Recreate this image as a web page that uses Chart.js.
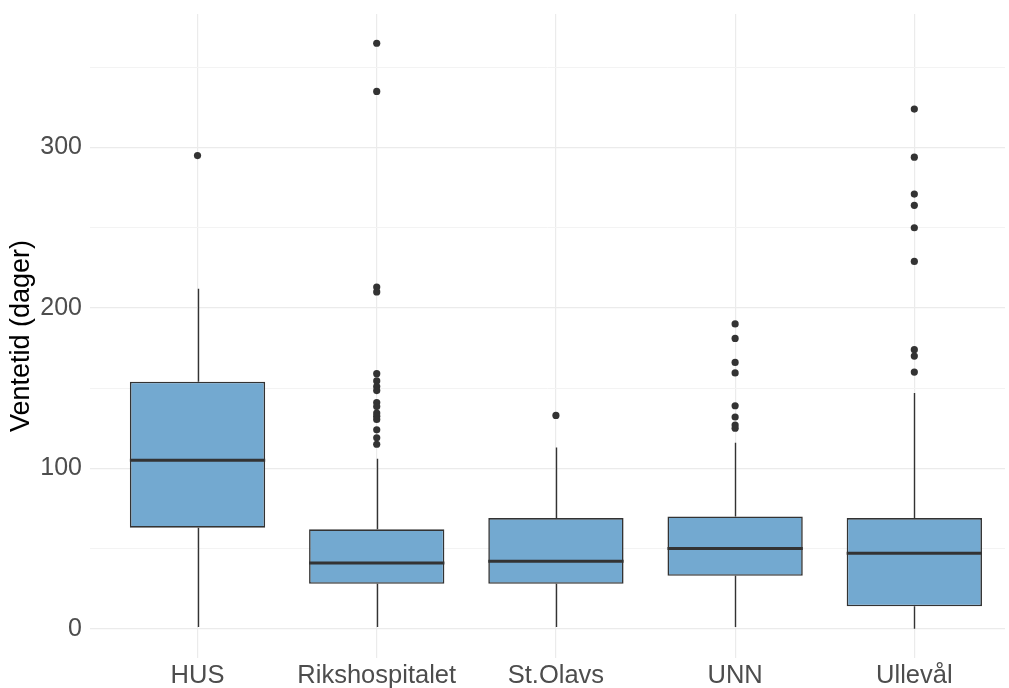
<!DOCTYPE html>
<html>
<head>
<meta charset="utf-8">
<script src="https://cdn.jsdelivr.net/npm/chart.js@4.4.1/dist/chart.umd.min.js"></script>
<style>
  html, body { margin: 0; padding: 0; background: #ffffff; }
  #wrap { width: 1009px; height: 688px; }
</style>
</head>
<body>
<div id="wrap"><canvas id="chart" width="1009" height="688"></canvas></div>
<script>
// sykehus og boksplott-verdier (dager)
const categories = ['HUS', 'Rikshospitalet', 'St.Olavs', 'UNN', 'Ullevål'];
const whiskerLow = [1, 1, 1, 1, 0];
const q1 = [63, 28, 28, 33, 14];
const median = [105, 41, 42, 50, 47];
const q3 = [154, 62, 69, 70, 69];
const whiskerHigh = [212, 106, 113, 116, 147];

// uteliggere per sykehus
const outHUS = [295];
const outRiks = [365, 335, 213, 210, 159, 154.5, 151, 148.5, 141, 138.5, 134.5, 132.5, 130.5, 124, 119, 115];
const outOlavs = [133];
const outUNN = [190, 181, 166, 159.5, 139, 132, 127, 125];
const outUllevaal = [324, 294, 271, 264, 250, 229, 174, 170, 160];
const outliers = [outHUS, outRiks, outOlavs, outUNN, outUllevaal];

const yTicks = [0, 50, 100, 150, 200, 250, 300, 350];
const yMin = -18.25, yMax = 383.25;

const boxData = categories.map((c, i) => ({ x: i + 1, y: [q1[i], q3[i]] }));
const pointData = [];
outliers.forEach((arr, i) => arr.forEach(v => pointData.push({ x: i + 1, y: v })));

const lineColor = '#333333';

// whiskers og median tegnes med skalaene
const boxLines = {
    id: 'boxLines',
    beforeDatasetsDraw(chart) {
        const ctx = chart.ctx;
        const xs = chart.scales.x, ys = chart.scales.y;
        ctx.save();
        ctx.strokeStyle = lineColor;
        ctx.lineWidth = 1.4;
        categories.forEach((c, i) => {
            const px = Math.round(xs.getPixelForValue(i + 1)) + 0.5;
            ctx.beginPath();
            ctx.moveTo(px, ys.getPixelForValue(whiskerHigh[i]));
            ctx.lineTo(px, ys.getPixelForValue(q3[i]));
            ctx.moveTo(px, ys.getPixelForValue(q1[i]));
            ctx.lineTo(px, ys.getPixelForValue(whiskerLow[i]));
            ctx.stroke();
        });
        ctx.restore();
    },
    afterDatasetsDraw(chart) {
        const ctx = chart.ctx;
        const ys = chart.scales.y;
        const meta = chart.getDatasetMeta(0);
        ctx.save();
        ctx.strokeStyle = lineColor;
        ctx.lineWidth = 3;
        meta.data.forEach((bar, i) => {
            const py = ys.getPixelForValue(median[i]);
            ctx.beginPath();
            ctx.moveTo(bar.x - bar.width / 2, py);
            ctx.lineTo(bar.x + bar.width / 2, py);
            ctx.stroke();
        });
        ctx.restore();
    }
};

new Chart(document.getElementById('chart').getContext('2d'), {
    type: 'bar',
    data: {
        datasets: [
            {
                type: 'bar',
                data: boxData,
                backgroundColor: '#73a9d0',
                borderColor: lineColor,
                borderWidth: 1.6,
                borderSkipped: false,
                categoryPercentage: 1,
                barPercentage: 0.755
            },
            {
                type: 'scatter',
                data: pointData,
                backgroundColor: lineColor,
                borderColor: lineColor,
                borderWidth: 0,
                pointRadius: 3.6
            }
        ]
    },
    options: {
        responsive: false,
        animation: false,
        devicePixelRatio: 1,
        layout: { padding: { top: 14, right: 0, bottom: 0, left: 0 } },
        plugins: {
            legend: { display: false },
            tooltip: { enabled: false }
        },
        scales: {
            x: {
                type: 'linear',
                offset: false,
                min: 0.4,
                max: 5.506,
                afterBuildTicks: (scale) => { scale.ticks = categories.map((c, i) => ({ value: i + 1 })); },
                afterFit: (scale) => { scale.height = 30; scale.paddingLeft = 0; scale.paddingRight = 0; },
                grid: { color: '#ebebeb', lineWidth: 1.2, drawTicks: false, offset: false },
                border: { display: false },
                ticks: {
                    callback: (v) => categories[v - 1],
                    color: '#4d4d4d',
                    font: { family: 'Liberation Sans', size: 25.5 },
                    padding: 3,
                    maxRotation: 0,
                    autoSkip: false
                }
            },
            y: {
                type: 'linear',
                min: yMin,
                max: yMax,
                afterBuildTicks: (scale) => { scale.ticks = yTicks.map(v => ({ value: v })); },
                afterFit: (scale) => { scale.width = 90; scale.paddingTop = 0; scale.paddingBottom = 0; },
                grid: {
                    color: (ctx) => (ctx.tick && ctx.tick.value % 100 === 0) ? '#ebebeb' : '#f3f3f3',
                    lineWidth: (ctx) => (ctx.tick && ctx.tick.value % 100 === 0) ? 1.2 : 1,
                    drawTicks: false
                },
                border: { display: false },
                ticks: {
                    callback: (v) => (v % 100 === 0 ? String(v) : ''),
                    color: '#4d4d4d',
                    font: { family: 'Liberation Sans', size: 25 },
                    padding: 8
                },
                title: {
                    display: true,
                    text: 'Ventetid (dager)',
                    color: '#000000',
                    font: { family: 'Liberation Sans', size: 27 },
                    padding: { top: 5, bottom: 0 }
                }
            }
        }
    },
    plugins: [boxLines]
});
</script>
</body>
</html>
